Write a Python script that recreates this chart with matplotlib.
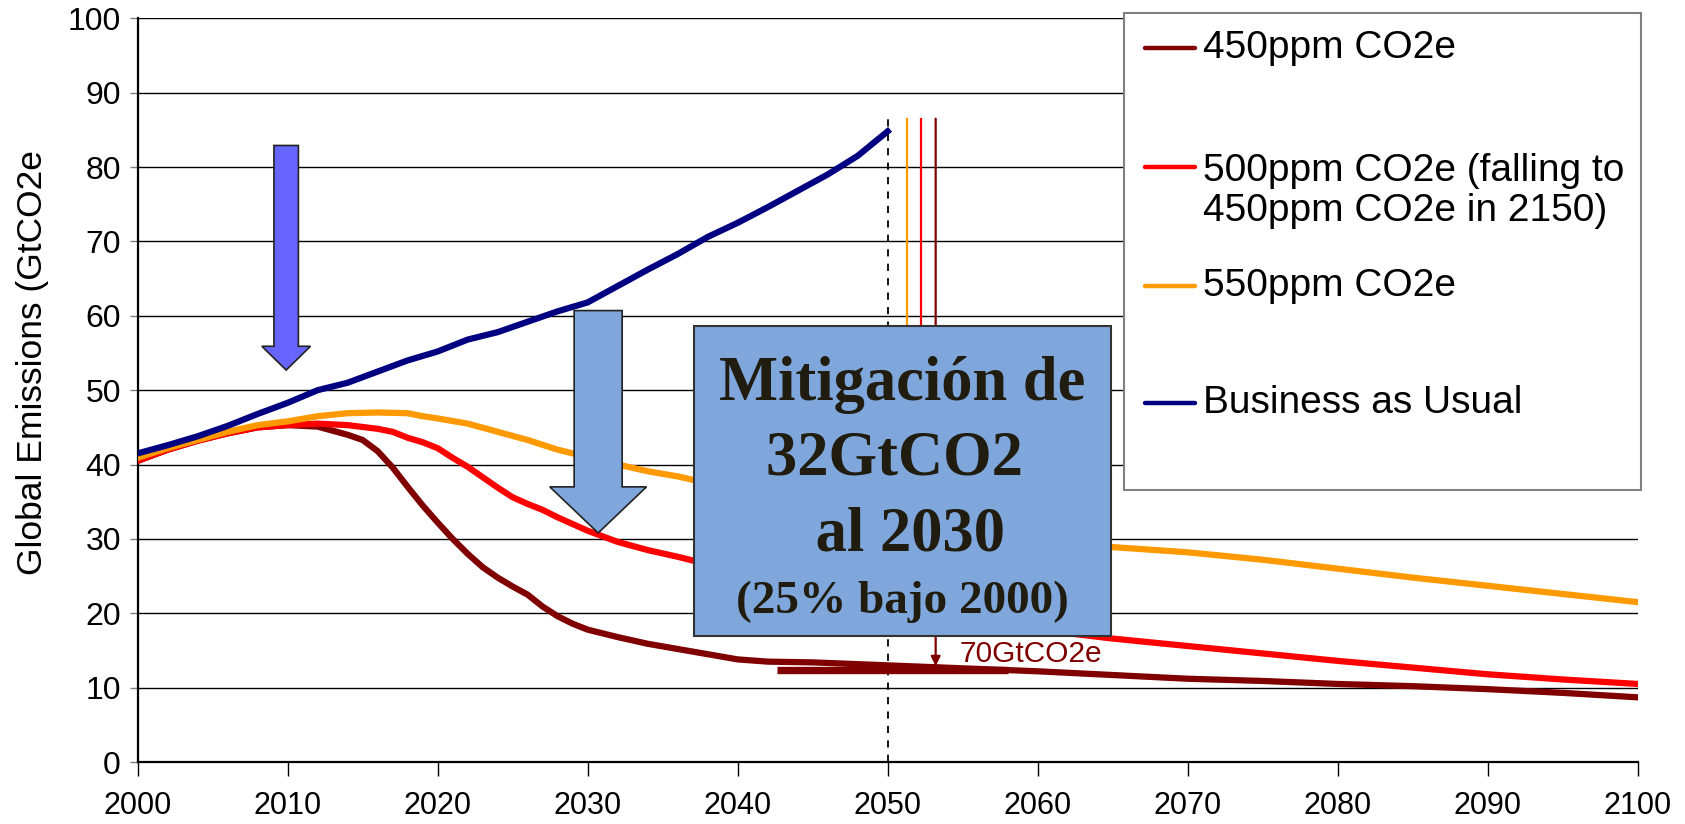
import matplotlib
matplotlib.use("Agg")
import matplotlib.pyplot as plt
from matplotlib.patches import Rectangle, FancyArrow
from matplotlib.lines import Line2D

plt.rcParams['font.family'] = ['Liberation Sans', 'DejaVu Sans']

# --- data (GtCO2e) ---
years_bau = [2000, 2002, 2004, 2006, 2008, 2010, 2012, 2014, 2016, 2018, 2020, 2022, 2024,
             2026, 2028, 2030, 2032, 2034, 2036, 2038, 2040, 2042, 2044, 2046, 2048, 2050]
em_bau = [41.5, 42.6, 43.8, 45.2, 46.8, 48.3, 50.0, 51.0, 52.5, 54.0, 55.2, 56.8, 57.8,
          59.2, 60.6, 61.8, 64.0, 66.2, 68.3, 70.6, 72.5, 74.6, 76.8, 79.0, 81.5, 84.8]

years_450 = [2000, 2002, 2004, 2006, 2008, 2010, 2012, 2014, 2015, 2016, 2017, 2018, 2019,
             2020, 2021, 2022, 2023, 2024, 2025, 2026, 2027, 2028, 2029, 2030, 2032, 2034,
             2036, 2038, 2040, 2042, 2045, 2050, 2055, 2060, 2065, 2070, 2075, 2080, 2085,
             2090, 2095, 2100]
em_450 = [40.5, 42.0, 43.2, 44.2, 45.0, 45.3, 45.1, 44.0, 43.3, 41.8, 39.6, 37.0, 34.5,
          32.2, 30.0, 28.0, 26.2, 24.8, 23.6, 22.5, 20.9, 19.6, 18.6, 17.8, 16.8, 15.9,
          15.2, 14.5, 13.8, 13.5, 13.4, 13.0, 12.6, 12.2, 11.7, 11.2, 10.9, 10.5, 10.2,
          9.8, 9.3, 8.7]

years_500 = [2000, 2002, 2004, 2006, 2008, 2010, 2012, 2014, 2016, 2017, 2018, 2019, 2020,
             2021, 2022, 2023, 2024, 2025, 2026, 2027, 2028, 2029, 2030, 2032, 2034, 2036,
             2038, 2040, 2045, 2050, 2055, 2060, 2065, 2070, 2075, 2080, 2085, 2090, 2095, 2100]
em_500 = [40.5, 42.0, 43.2, 44.2, 45.0, 45.3, 45.5, 45.3, 44.8, 44.4, 43.6, 43.0, 42.2,
          40.9, 39.7, 38.3, 36.9, 35.6, 34.7, 33.9, 32.9, 32.0, 31.1, 29.6, 28.5, 27.6,
          26.6, 25.5, 23.0, 21.0, 19.2, 17.8, 16.6, 15.6, 14.6, 13.6, 12.7, 11.8, 11.1, 10.5]

years_550 = [2000, 2002, 2004, 2006, 2008, 2010, 2012, 2014, 2016, 2018, 2019, 2020, 2022,
             2024, 2026, 2028, 2030, 2032, 2034, 2036, 2038, 2040, 2045, 2050, 2055, 2060,
             2065, 2070, 2075, 2080, 2085, 2090, 2095, 2100]
em_550 = [40.9, 42.2, 43.3, 44.4, 45.3, 45.8, 46.5, 46.9, 47.0, 46.9, 46.5, 46.2, 45.5,
          44.4, 43.3, 42.0, 41.0, 40.0, 39.1, 38.4, 37.5, 36.7, 34.5, 32.5, 31.0, 29.8,
          28.9, 28.2, 27.2, 26.0, 24.8, 23.7, 22.6, 21.5]

labels = ["450ppm CO2e", "500ppm CO2e (falling to\n450ppm CO2e in 2150)",
          "550ppm CO2e", "Business as Usual"]
colors = ["#800000", "#FF0000", "#FF9900", "#000080"]

x_ticks = list(range(2000, 2101, 10))
y_ticks = list(range(0, 101, 10))

# annotation values
year_2050 = 2050
gap_years = [2051.3, 2052.2, 2053.2]     # orange, red, dark red markers
gap_top = 86.5
gap_bottom = [32.5, 21.0, 12.9]
target_bar = (2042.6, 2058.0, 12.4)
gap_label = "70GtCO2e"
box_text = ["Mitigación de", "32GtCO2 ", " al 2030", "(25% bajo 2000)"]

fig = plt.figure(figsize=(16.85, 8.24), dpi=100)
ax = fig.add_axes([0.0817, 0.0752, 0.8902, 0.9026])
ax.set_xlim(2000, 2100)
ax.set_ylim(0, 100)

ax.set_yticks(y_ticks)
ax.set_xticks(x_ticks)
ax.yaxis.grid(True, color="black", lw=1.0)
ax.set_axisbelow(True)
ax.tick_params(axis="y", labelsize=23, length=6, width=1, color="#808080", pad=6)
ax.tick_params(axis="x", labelsize=22, length=10, width=1, color="black", pad=11)
for s in ["top", "right"]:
    ax.spines[s].set_visible(False)
ax.spines["left"].set_linewidth(1.6)
ax.spines["bottom"].set_linewidth(1.6)

series = [(years_450, em_450), (years_500, em_500), (years_550, em_550), (years_bau, em_bau)]
for (xs, ys), c in zip(series, colors):
    ax.plot(xs, ys, color=c, lw=4.5, zorder=3)

# dashed 2050 line
ax.plot([year_2050, year_2050], [0, gap_top], color="black", lw=1.3, ls=(0, (4, 4)), zorder=2)

# coloured gap markers
ax.plot([gap_years[0]] * 2, [gap_top, gap_bottom[0]], color=colors[2], lw=1.6, zorder=2)
ax.plot([gap_years[1]] * 2, [gap_top, gap_bottom[1]], color=colors[1], lw=1.6, zorder=2)
ax.annotate("", xy=(gap_years[2], gap_bottom[2]), xytext=(gap_years[2], gap_top),
            arrowprops=dict(arrowstyle="-|>", color=colors[0], lw=1.6,
                            mutation_scale=14, shrinkA=0, shrinkB=0), zorder=2)
ax.plot([target_bar[0], target_bar[1]], [target_bar[2]] * 2, color=colors[0], lw=5.3,
        solid_capstyle="butt", zorder=4)
ax.text(2054.8, 13.5, gap_label, color=colors[0], fontsize=21.5, va="baseline", zorder=4)

# big arrows
ax.add_patch(FancyArrow(2009.9, 82.9, 0, 52.7 - 82.9, width=1.63, head_width=3.24,
                        head_length=3.2, length_includes_head=True,
                        fc="#6666FF", ec="#222222", lw=1.2, zorder=4))
ax.add_patch(FancyArrow(2030.7, 60.7, 0, 30.8 - 60.7, width=3.2, head_width=6.45,
                        head_length=6.2, length_includes_head=True,
                        fc="#7FA7DC", ec="#222222", lw=1.2, zorder=4))

# text box
ax.add_patch(Rectangle((2037.1, 16.9), 27.8, 41.7, fc="#7FA7DC", ec="#333333",
                       lw=1.5, zorder=5))
box_y = [48.7, 38.6, 28.5, 20.0]
box_size = [45, 45, 45, 34]
for s, y, fs in zip(box_text, box_y, box_size):
    ax.text(2051.0, y, s, ha="center", va="baseline", fontsize=fs, fontweight="bold",
            family=["Liberation Serif", "DejaVu Serif"], color="#201C10", zorder=6)

fig.text(0.0195, 0.5598, "Global Emissions (GtCO2e", rotation=90, ha="center",
         va="center", fontsize=25.5)

# legend box drawn in figure coordinates
fig.add_artist(Rectangle((0.6668, 0.4053), 0.9739 - 0.6668, 0.9846 - 0.4053,
                         transform=fig.transFigure, fc="white", ec="#808080", lw=1.5,
                         zorder=10))
handle_y = [0.9414, 0.7970, 0.6529, 0.5105]
text_y = [0.9414, 0.7680, 0.6529, 0.5105]
for lab, c, hy, ty in zip(labels, colors, handle_y, text_y):
    fig.add_artist(Line2D([0.6798, 0.7092], [hy, hy], transform=fig.transFigure,
                          color=c, lw=3.2, solid_capstyle="round", zorder=11))
    fig.text(0.7137, ty, lab, fontsize=28, va="center", ha="left", linespacing=1.15,
             zorder=12)

fig.savefig("out.png", dpi=100)
